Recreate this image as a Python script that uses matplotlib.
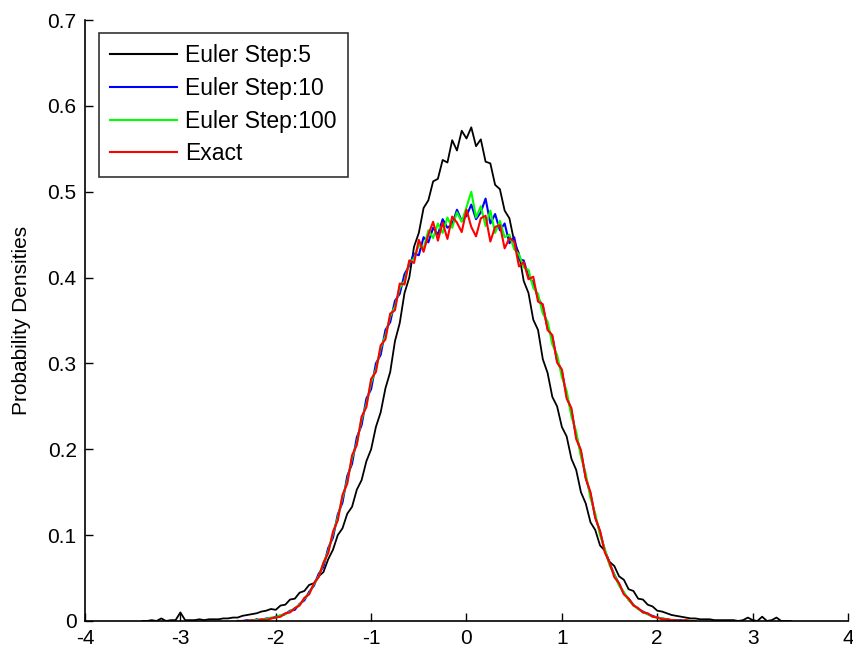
import numpy as np
import matplotlib
matplotlib.use("Agg")
import matplotlib.pyplot as plt

plt.rcParams['font.family'] = ['Liberation Sans', 'DejaVu Sans']

# ---------------- data ----------------
series_labels = ["Euler Step:5", "Euler Step:10", "Euler Step:100", "Exact"]

# histogram bin centres (step 0.05)
x_black = np.linspace(-3.40, 3.40, 137)
x_col = np.linspace(-2.40, 2.40, 97)

# Euler Step:5  (x = -3.40 ... 3.40)
euler5 = [
    # -3.40 .. -2.05
    0.000, 0.000, 0.001, 0.000, 0.003, 0.000, 0.001, 0.001, 0.010, 0.001,
    0.001, 0.001, 0.002, 0.001, 0.002, 0.002, 0.002, 0.003, 0.003, 0.004,
    0.004, 0.006, 0.007, 0.008, 0.009, 0.011, 0.012, 0.014,
    # -2.00 .. -0.05
    0.013, 0.018, 0.019, 0.025, 0.026, 0.033, 0.035, 0.042, 0.044, 0.052,
    0.057, 0.072, 0.083, 0.100, 0.108, 0.125, 0.133, 0.153, 0.164, 0.186,
    0.200, 0.226, 0.243, 0.271, 0.290, 0.326, 0.347, 0.382, 0.400, 0.436,
    0.452, 0.481, 0.490, 0.512, 0.515, 0.537, 0.534, 0.560, 0.548, 0.571,
    # 0.00
    0.562,
    # 0.05 .. 2.00
    0.575, 0.553, 0.561, 0.535, 0.533, 0.508, 0.503, 0.478, 0.469, 0.442,
    0.428, 0.396, 0.382, 0.351, 0.339, 0.305, 0.289, 0.261, 0.250, 0.226,
    0.215, 0.189, 0.176, 0.150, 0.137, 0.115, 0.106, 0.088, 0.082, 0.069,
    0.064, 0.052, 0.048, 0.037, 0.035, 0.026, 0.025, 0.019, 0.017, 0.012,
    # 2.05 .. 3.40
    0.011, 0.009, 0.007, 0.006, 0.005, 0.004, 0.003, 0.003, 0.002, 0.002,
    0.002, 0.001, 0.001, 0.001, 0.001, 0.001, 0.000, 0.001, 0.004, 0.001,
    0.000, 0.005, 0.000, 0.001, 0.004, 0.000, 0.000, 0.000,
]

# Euler Step:10  (x = -2.40 ... 2.40)
euler10 = [
    0.000, 0.000, 0.001, 0.000, 0.002, 0.001, 0.003, 0.003, 0.005, 0.006,
    0.008, 0.012, 0.013, 0.020, 0.024, 0.034, 0.041, 0.055, 0.063, 0.085,
    0.097, 0.124, 0.138, 0.169, 0.183, 0.214, 0.228, 0.259, 0.270, 0.300,
    0.310, 0.339, 0.348, 0.373, 0.381, 0.404,
    0.414, 0.428, 0.426, 0.447, 0.441, 0.458, 0.450, 0.468, 0.458, 0.462,
    0.479, 0.466, 0.472, 0.485, 0.468, 0.476, 0.492, 0.463, 0.474, 0.455,
    0.463, 0.440, 0.447, 0.421, 0.420,
    0.401, 0.394, 0.376, 0.367, 0.341, 0.331, 0.303, 0.291, 0.262, 0.245,
    0.215, 0.197, 0.167, 0.148, 0.121, 0.104, 0.082, 0.067, 0.054, 0.043,
    0.032, 0.026, 0.019, 0.014, 0.011, 0.008, 0.006, 0.004, 0.003, 0.002,
    0.001, 0.001, 0.001, 0.000, 0.000, 0.000,
]

# Euler Step:100  (x = -2.40 ... 2.40)
euler100 = [
    0.000, 0.000, 0.000, 0.001, 0.001, 0.002, 0.002, 0.004, 0.004, 0.007,
    0.008, 0.011, 0.015, 0.019, 0.026, 0.032, 0.043, 0.052, 0.067, 0.081,
    0.102, 0.120, 0.144, 0.163, 0.190, 0.207, 0.235, 0.252, 0.278, 0.293,
    0.318, 0.332, 0.355, 0.366, 0.388, 0.396,
    0.418, 0.422, 0.438, 0.434, 0.455, 0.446, 0.463, 0.452, 0.470, 0.458,
    0.476, 0.465, 0.482, 0.500, 0.470, 0.483, 0.460, 0.478, 0.452, 0.466,
    0.447, 0.450, 0.433, 0.427, 0.412,
    0.409, 0.388, 0.381, 0.358, 0.349, 0.322, 0.310, 0.284, 0.268, 0.238,
    0.221, 0.191, 0.172, 0.143, 0.125, 0.100, 0.084, 0.065, 0.054, 0.041,
    0.034, 0.024, 0.019, 0.014, 0.010, 0.008, 0.005, 0.004, 0.003, 0.002,
    0.001, 0.001, 0.000, 0.001, 0.000, 0.000,
]

# Exact  (x = -2.40 ... 2.40)
exact = [
    0.000, 0.000, 0.000, 0.001, 0.000, 0.002, 0.001, 0.003, 0.004, 0.005,
    0.009, 0.010, 0.015, 0.018, 0.027, 0.031, 0.044, 0.051, 0.068, 0.079,
    0.104, 0.117, 0.147, 0.160, 0.193, 0.205, 0.238, 0.249, 0.282, 0.290,
    0.321, 0.328, 0.358, 0.362, 0.393, 0.392,
    0.420, 0.417, 0.444, 0.430, 0.450, 0.465, 0.443, 0.464, 0.445, 0.471,
    0.464, 0.453, 0.479, 0.459, 0.448, 0.469, 0.472, 0.442, 0.459, 0.461,
    0.434, 0.446, 0.442, 0.413, 0.418,
    0.398, 0.401, 0.372, 0.369, 0.339, 0.333, 0.301, 0.293, 0.259, 0.248,
    0.212, 0.199, 0.166, 0.150, 0.120, 0.105, 0.080, 0.068, 0.051, 0.044,
    0.031, 0.026, 0.018, 0.015, 0.010, 0.009, 0.005, 0.004, 0.002, 0.002,
    0.001, 0.001, 0.000, 0.001, 0.000, 0.000,
]

x_ticks = [-4, -3, -2, -1, 0, 1, 2, 3, 4]
x_tick_labels = ["-4", "-3", "-2", "-1", "0", "1", "2", "3", "4"]
y_ticks = [0, 0.1, 0.2, 0.3, 0.4, 0.5, 0.6, 0.7]
y_tick_labels = ["0", "0.1", "0.2", "0.3", "0.4", "0.5", "0.6", "0.7"]
y_label = "Probability Densities"

# ---------------- plot ----------------
fig = plt.figure(figsize=(8.54, 6.53), dpi=100)
ax = fig.add_axes([85 / 854, 32 / 653, (848 - 85) / 854, (621 - 20) / 653])

ax.plot(x_black, euler5, color=(0, 0, 0), lw=1.3, label=series_labels[0])
ax.plot(x_col, euler10, color=(0, 0, 1), lw=1.5, label=series_labels[1])
ax.plot(x_col, euler100, color=(0, 1, 0), lw=1.5, label=series_labels[2])
ax.plot(x_col, exact, color=(1, 0, 0), lw=1.5, label=series_labels[3])

ax.set_xlim(-4, 4)
ax.set_ylim(0, 0.7)
ax.set_xticks(x_ticks)
ax.set_xticklabels(x_tick_labels)
ax.set_yticks(y_ticks)
ax.set_yticklabels(y_tick_labels)
ax.tick_params(direction='in', length=6, width=1, labelsize=15, colors='black', pad=6)
ax.set_ylabel(y_label, fontsize=15, labelpad=12)

for s in ['top', 'right']:
    ax.spines[s].set_visible(False)
for s in ['left', 'bottom']:
    ax.spines[s].set_linewidth(1.2)

leg = ax.legend(loc='upper left', bbox_to_anchor=(14 / 763, 1 - 13 / 601),
                fontsize=16.5, frameon=True, fancybox=False, shadow=False,
                handlelength=2.9, handletextpad=0.35, labelspacing=0.42,
                borderpad=0.5, borderaxespad=0.0)
leg.get_frame().set_edgecolor('black')
leg.get_frame().set_linewidth(1.2)
for line in leg.get_lines():
    line.set_linewidth(1.5)

fig.savefig("out.png", dpi=100)
